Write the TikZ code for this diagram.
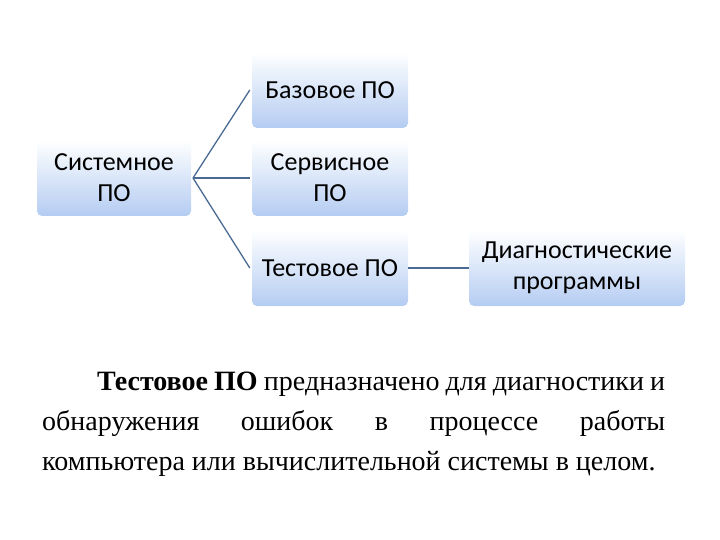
\documentclass[tikz,border=0pt]{standalone}
\usepackage{fontspec}
\setmainfont{Liberation Serif}
\newfontfamily\calfnt{Carlito}
\definecolor{bxb}{HTML}{B4CCF2}
\definecolor{lnc}{HTML}{4A6A94}
\begin{document}
\begin{tikzpicture}[x=1pt,y=-1pt,
  bx/.style={rounded corners=5pt,top color=white,bottom color=bxb,draw=none,
    minimum height=76pt,align=center,font=\calfnt\fontsize{26}{31}\selectfont,inner sep=2pt},
  ln/.style={draw=lnc,line width=1.3pt}]
\useasboundingbox (0,0) rectangle (720,540);
\node[bx,minimum width=154pt] (s) at (114,178) {Системное\\ПО};
\node[bx,minimum width=156pt] (b) at (330,90) {Базовое ПО};
\node[bx,minimum width=156pt] (v) at (330,178) {Сервисное\\ПО};
\node[bx,minimum width=156pt] (t) at (330,268) {Тестовое ПО};
\node[bx,minimum width=216pt] (d) at (577,268) {Диагностические\\программы};
\coordinate (j) at (193,178);
\draw[ln] (j) -- ([xshift=-2pt]b.west);
\draw[ln] (j) -- ([xshift=-2pt]v.west);
\draw[ln] (j) -- ([xshift=-2pt]t.west);
\draw[ln] (t.east) -- (d.west);
\node[text width=623pt,align=justify,inner sep=0pt,anchor=north west,
  font=\fontsize{28}{40}\selectfont] (p) at (42,372)
  {\hspace*{55pt}\textbf{Тестовое ПО} предназначено для диагностики и\linebreak обнаружения ошибок в процессе работы\linebreak компьютера или вычислительной системы в целом.};
\end{tikzpicture}
\end{document}
